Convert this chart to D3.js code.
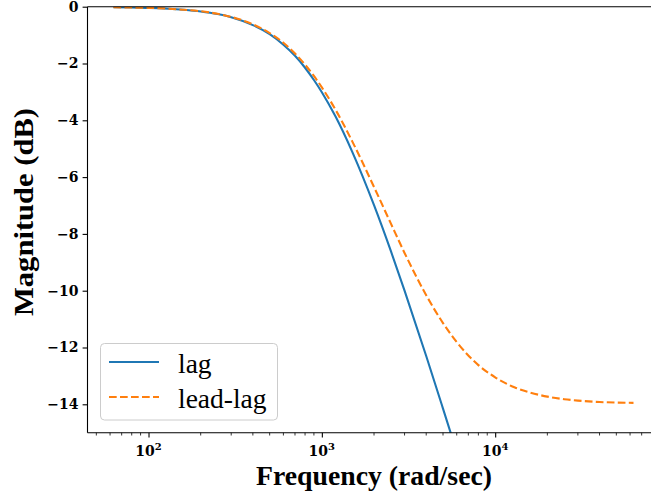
<!DOCTYPE html>
<html>
<head>
<meta charset="utf-8">
<script src="https://cdn.jsdelivr.net/npm/d3@7"></script>
<style>
  body { margin: 0; background: #fff; }
  svg { display: block; }
</style>
</head>
<body>
<svg id="chart" width="651" height="496"></svg>
<script>
// Data
const freq = [62.8, 80, 100, 130, 160, 200, 250, 300, 400, 500, 600, 700, 800, 900, 1000, 1200, 1500, 2000, 2500, 3000, 4000, 5000, 6000, 8000, 10000, 13000, 16000, 20000, 25000, 30000, 40000, 50000, 62800];
const lag = [-0.02, -0.03, -0.04, -0.07, -0.11, -0.17, -0.26, -0.37, -0.65, -0.97, -1.34, -1.73, -2.15, -2.58, -3.01, -3.87, -5.12, -6.99, -8.60, -10.00, -12.30, -14.15, -15.68, -18.13, -20.04, -22.30, -24.10, -26.03, -27.97, -29.55, -32.04, -33.98, -35.96];
const leadLag = [-0.02, -0.03, -0.04, -0.07, -0.11, -0.16, -0.25, -0.36, -0.62, -0.93, -1.27, -1.65, -2.04, -2.44, -2.84, -3.63, -4.75, -6.35, -7.63, -8.67, -10.16, -11.14, -11.81, -12.62, -13.05, -13.41, -13.59, -13.73, -13.82, -13.87, -13.92, -13.94, -13.95];
const seriesNames = ["lag", "lead-lag"];
const yTicks = [0, -2, -4, -6, -8, -10, -12, -14];
const xMajorTicks = [100, 1000, 10000];
const xTickExponents = ["2", "3", "4"];

const SERIF = "'DejaVu Serif', 'Liberation Serif', serif";
const TIMES = "'Liberation Serif', serif";
const svg = d3.select("#chart");
const pLeft = 87.5, pRight = 659.5, pTop = 6.7, pBottom = 432.7;

const x = d3.scaleLog().domain([Math.pow(10, 1.648), Math.pow(10, 4.948)]).range([pLeft, pRight]);
const y = d3.scaleLinear().domain([-15, 0]).range([pBottom, pTop]);

svg.append("defs").append("clipPath").attr("id", "clip")
  .append("rect").attr("x", pLeft).attr("y", pTop).attr("width", pRight - pLeft).attr("height", pBottom - pTop);

const line = d3.line().x(d => x(d[0])).y(d => y(d[1])).curve(d3.curveMonotoneX);

const g = svg.append("g").attr("clip-path", "url(#clip)");
g.append("path").datum(freq.map((f, i) => [f, lag[i]]))
  .attr("d", line).attr("fill", "none").attr("stroke", "#1f77b4").attr("stroke-width", 2.1);
g.append("path").datum(freq.map((f, i) => [f, leadLag[i]]))
  .attr("d", line).attr("fill", "none").attr("stroke", "#ff7f0e").attr("stroke-width", 2.1)
  .attr("stroke-dasharray", "7.7,3.3");

// Axes
const xAxis = d3.axisBottom(x).tickValues(xMajorTicks).tickSize(4.9).tickFormat(() => "");
const xg = svg.append("g").attr("transform", `translate(0,${pBottom})`).call(xAxis);
const minor = [];
for (let e = 1; e <= 4; e++) for (let m = 2; m <= 9; m++) {
  const v = m * Math.pow(10, e);
  if (v >= x.domain()[0] && v <= x.domain()[1]) minor.push(v);
}
xg.selectAll(".minor").data(minor).enter().append("line").attr("class", "minor")
  .attr("x1", d => x(d)).attr("x2", d => x(d)).attr("y1", 0).attr("y2", 2.8)
  .attr("stroke", "#000").attr("stroke-width", 0.8);
xg.select(".domain").remove();
xg.selectAll(".tick line").attr("stroke-width", 1.1);

xMajorTicks.forEach((v, i) => {
  const t = svg.append("text").attr("x", x(v)).attr("y", pBottom + 23)
    .attr("text-anchor", "middle").attr("font-size", 14).attr("font-weight", "bold")
    .attr("font-family", SERIF);
  t.append("tspan").text("10");
  t.append("tspan").attr("dy", -6).attr("font-size", 10).text(xTickExponents[i]);
});

const yAxis = d3.axisLeft(y).tickValues(yTicks).tickSize(4.9)
  .tickFormat(d => d === 0 ? "0" : "\u2212" + Math.abs(d));
const yg = svg.append("g").attr("transform", `translate(${pLeft},0)`).call(yAxis);
yg.select(".domain").remove();
yg.selectAll(".tick line").attr("stroke-width", 1.1);
yg.selectAll(".tick text").attr("font-size", 14).attr("font-weight", "bold")
  .attr("font-family", SERIF).attr("x", -9).attr("fill", "#000");

// spines
svg.append("line").attr("x1", pLeft).attr("x2", pLeft).attr("y1", pTop).attr("y2", pBottom).attr("stroke", "#000").attr("stroke-width", 1.1);
svg.append("line").attr("x1", pLeft).attr("x2", 651).attr("y1", pBottom).attr("y2", pBottom).attr("stroke", "#000").attr("stroke-width", 1.1);
svg.append("line").attr("x1", pLeft).attr("x2", 651).attr("y1", pTop).attr("y2", pTop).attr("stroke", "#000").attr("stroke-width", 1.1);

// axis labels
svg.append("text").attr("x", 374).attr("y", 485)
  .attr("text-anchor", "middle").attr("font-size", 28).attr("font-weight", "bold")
  .attr("font-family", TIMES).attr("textLength", 236).attr("lengthAdjust", "spacingAndGlyphs")
  .text("Frequency (rad/sec)");
svg.append("text").attr("transform", `translate(33,212) rotate(-90)`)
  .attr("text-anchor", "middle").attr("font-size", 28).attr("font-weight", "bold")
  .attr("font-family", TIMES).attr("textLength", 208).attr("lengthAdjust", "spacingAndGlyphs")
  .text("Magnitude (dB)");

// legend
const lg = svg.append("g");
lg.append("rect").attr("x", 100.5).attr("y", 343.5).attr("width", 177).attr("height", 76.5)
  .attr("rx", 4).attr("fill", "#fff").attr("fill-opacity", 0.8).attr("stroke", "#ccc").attr("stroke-width", 1);
const colors = ["#1f77b4", "#ff7f0e"];
const dashes = [null, "7.7,3.3"];
const ly = [362, 397];
seriesNames.forEach((n, i) => {
  lg.append("line").attr("x1", 109).attr("x2", 159).attr("y1", ly[i]).attr("y2", ly[i])
    .attr("stroke", colors[i]).attr("stroke-width", 2.1).attr("stroke-dasharray", dashes[i]);
  lg.append("text").attr("x", 178).attr("y", ly[i] + 10.5).attr("font-size", 27.5)
    .attr("font-family", TIMES).attr("fill", "#000").text(n);
});
</script>
</body>
</html>
